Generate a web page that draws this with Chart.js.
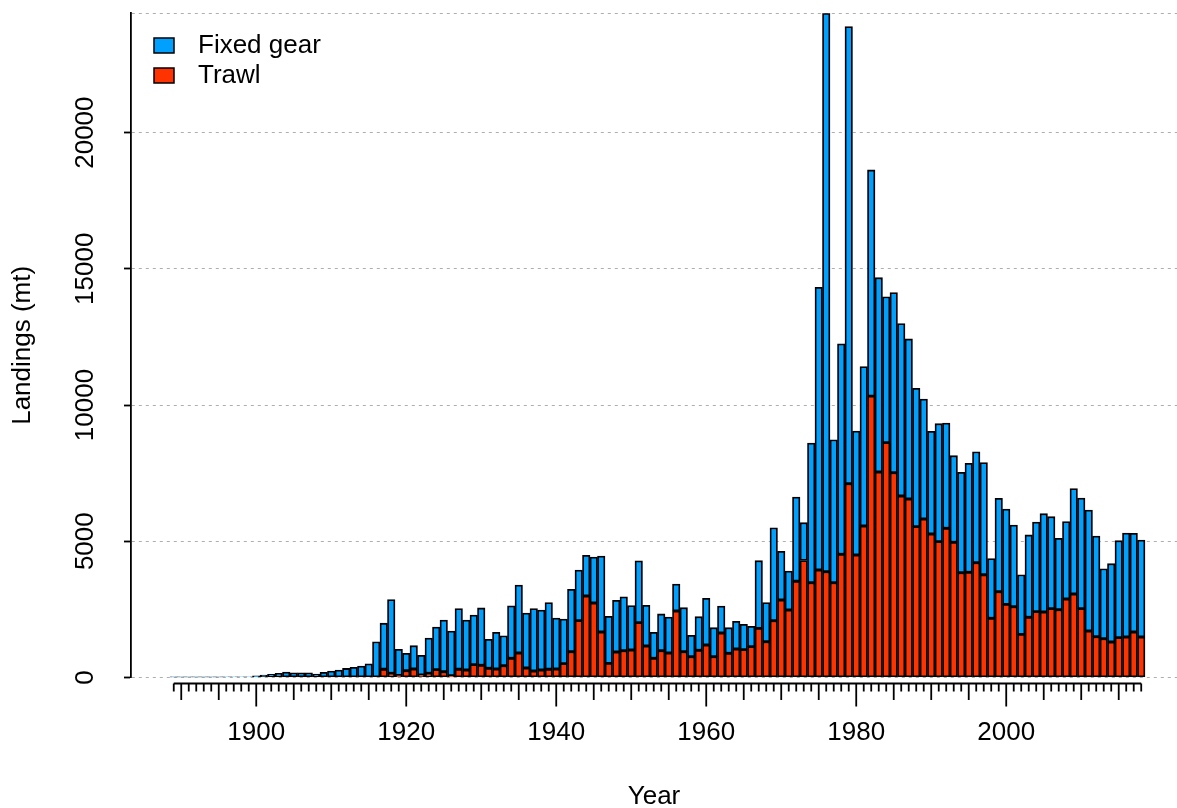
<!DOCTYPE html>
<html>
<head>
<meta charset="utf-8">
<title>Landings by gear</title>
<script src="https://cdn.jsdelivr.net/npm/chart.js"></script>
<style>
  body { margin: 0; background: #fff; }
</style>
</head>
<body>
<canvas id="landingsChart" width="1177" height="808"></canvas>
<script>
// Landings (mt) by year, stacked bars: trawl at the bottom, fixed gear on top

const firstYear = 1889;
const lastYear = 2018;
const years = [];
for (let yr = firstYear; yr <= lastYear; yr++) years.push(yr);

// 1889-2018
const trawl = [
    0, 0, 0, 0, 0, 0, 0, 0, 0, 0,                          // 1889-1898
    0, 0, 0, 0, 0, 0, 0, 0, 0, 0,                          // 1899-1908
    0, 0, 0, 0, 0, 0, 0, 0,                                // 1909-1916
    300, 150, 75, 245, 310, 90, 150, 285, 210, 60,         // 1917-1926
    300, 270, 470, 445, 335, 310, 430, 700, 895, 345,      // 1927-1936
    235, 270, 300, 310, 505, 945, 2085, 2990, 2730, 1665,  // 1937-1946
    515, 930, 980, 1005, 2010, 1150, 700, 980, 895, 2440,  // 1947-1956
    945, 760, 995, 1190, 760, 1630, 885, 1040, 1020, 1130, // 1957-1966
    1800, 1310, 2080, 2840, 2475, 3530, 4290, 3475, 3945, 3880, // 1967-1976
    3475, 4520, 7110, 4495, 5560, 10325, 7540, 8620, 7515, 6660, // 1977-1986
    6550, 5535, 5815, 5265, 4985, 5475, 4960, 3845, 3860, 4210,  // 1987-1996
    3765, 2170, 3145, 2680, 2595, 1580, 2205, 2415, 2400, 2525,  // 1997-2006
    2485, 2880, 3060, 2525, 1705, 1495, 1420, 1300, 1460, 1480,  // 2007-2016
    1665, 1480                                                   // 2017-2018
];

const fixedGear = [
    5, 5, 5, 5, 5, 5, 10, 25, 25, 25,                      // 1889-1898
    25, 60, 85, 110, 150, 195, 170, 170, 170, 120,         // 1899-1908
    185, 230, 270, 330, 370, 415, 500, 1310,               // 1909-1916
    1690, 2705, 955, 640, 855, 720, 1295, 1565, 1895, 1640,      // 1917-1926
    2225, 1835, 1820, 2105, 1065, 1345, 1100, 1930, 2495, 2020,  // 1927-1936
    2290, 2205, 2445, 1870, 1640, 2290, 1855, 1490, 1690, 2790,  // 1937-1946
    1725, 1900, 1980, 1635, 2270, 1495, 955, 1350, 1320, 990,    // 1947-1956
    1615, 785, 1235, 1715, 1065, 990, 940, 1020, 930, 745,       // 1957-1966
    2485, 1435, 3415, 1790, 1430, 3090, 1390, 5125, 10375, 20500, // 1967-1976
    5250, 7725, 16780, 4550, 5855, 8305, 7135, 5355, 6610, 6330,  // 1977-1986
    5875, 5075, 4405, 3770, 4330, 3865, 3180, 3685, 4000, 4075,   // 1987-1996
    4120, 2195, 3430, 3500, 3000, 2190, 3025, 3290, 3610, 3375,   // 1997-2006
    2620, 2840, 3870, 4060, 4440, 3695, 2570, 2875, 3560, 3820,   // 2007-2016
    3625, 3565                                                    // 2017-2018
];

const yTickLabels = [0, 5000, 10000, 15000, 20000];
const xTickLabels = [1900, 1920, 1940, 1960, 1980, 2000];
const yMax = 24380;

const trawlColor = '#FF3300';
const fixedColor = '#00A0FF';
const FONT_FAMILY = '"Liberation Sans", Arial, sans-serif';
const FONT_SIZE = 26;

// R-style axes (yearly ticks, rotated y labels) and the legend
const rStylePlugin = {
    id: 'rStyle',
    afterDraw(chart) {
        const ctx = chart.ctx;
        const xs = chart.scales.x;
        const ys = chart.scales.y;
        ctx.save();
        ctx.fillStyle = '#000';
        ctx.font = FONT_SIZE + 'px ' + FONT_FAMILY;

        // y tick labels, parallel to the axis
        ctx.textAlign = 'center';
        ctx.textBaseline = 'middle';
        yTickLabels.forEach(function(v) {
            ctx.save();
            ctx.translate(86, ys.getPixelForValue(v));
            ctx.rotate(-Math.PI / 2);
            ctx.fillText(String(v), 0, 0);
            ctx.restore();
        });

        // x axis line with a tick for every year
        const axisY = 683.5;
        ctx.strokeStyle = '#000';
        ctx.lineWidth = 1.8;
        ctx.beginPath();
        ctx.moveTo(xs.getPixelForValue(firstYear), axisY);
        ctx.lineTo(xs.getPixelForValue(lastYear), axisY);
        years.forEach(function(yr) {
            const px = xs.getPixelForValue(yr);
            let len = 8;
            if (yr % 20 === 0) len = 23;
            else if (yr % 5 === 0) len = 16.5;
            ctx.moveTo(px, axisY);
            ctx.lineTo(px, axisY + len);
        });
        ctx.stroke();

        // legend
        const items = [
            { label: 'Fixed gear', color: fixedColor, y: 38 },
            { label: 'Trawl', color: trawlColor, y: 68 }
        ];
        ctx.textAlign = 'left';
        ctx.lineWidth = 1.5;
        items.forEach(function(it) {
            ctx.fillStyle = it.color;
            ctx.fillRect(154, it.y, 20, 15);
            ctx.strokeRect(154, it.y, 20, 15);
            ctx.fillStyle = '#000';
            ctx.fillText(it.label, 198, it.y + 8);
        });
        ctx.restore();
    }
};

const axisFont = { family: FONT_FAMILY, size: FONT_SIZE };

new Chart(document.getElementById('landingsChart'), {
    type: 'bar',
    data: {
        datasets: [{
            label: 'Trawl',
            data: years.map((yr, i) => ({ x: yr, y: trawl[i] })),
            backgroundColor: trawlColor
        }, {
            label: 'Fixed gear',
            data: years.map((yr, i) => ({ x: yr, y: fixedGear[i] })),
            backgroundColor: fixedColor
        }]
    },
    options: {
        responsive: false,
        devicePixelRatio: 1,
        animation: false,
        layout: { padding: { top: 13.3, right: 0, bottom: 0, left: 0 } },
        plugins: {
            legend: { display: false },
            tooltip: { enabled: false }
        },
        datasets: {
            bar: {
                barPercentage: 1,
                categoryPercentage: 1,
                borderWidth: 1.8,
                borderColor: '#000',
                borderSkipped: false
            }
        },
        scales: {
            x: {
                type: 'linear',
                stacked: true,
                offset: false,
                min: 1883.3,
                max: 2022.77,
                afterBuildTicks: s => { s.ticks = xTickLabels.map(v => ({ value: v })); },
                afterFit: s => { s.height = 808 - 677.4; },
                grid: { display: false, drawTicks: false },
                border: { display: false },
                ticks: {
                    font: axisFont,
                    color: '#000',
                    padding: 40,
                    maxRotation: 0,
                    autoSkip: false,
                    callback: v => String(v)
                },
                title: {
                    display: true,
                    text: 'Year',
                    font: axisFont,
                    color: '#000',
                    padding: { top: 0, bottom: -4 }
                }
            },
            y: {
                stacked: true,
                min: 0,
                max: yMax,
                afterBuildTicks: s => { s.ticks = yTickLabels.concat([yMax]).map(v => ({ value: v })); },
                afterFit: s => { s.width = 131; },
                ticks: { display: false },
                grid: {
                    color: '#aeaeae',
                    lineWidth: 1,
                    tickLength: 7,
                    tickWidth: 1.8,
                    tickColor: c => (c.tick && c.tick.value > 20000) ? 'rgba(0,0,0,0)' : '#000',
                    tickBorderDash: []
                },
                border: { display: true, color: '#000', width: 1.8, dash: [3, 4] },
                title: {
                    display: true,
                    text: 'Landings (mt)',
                    font: axisFont,
                    color: '#000',
                    padding: { top: 7, bottom: 0 }
                }
            }
        }
    },
    plugins: [rStylePlugin]
});
</script>
</body>
</html>
